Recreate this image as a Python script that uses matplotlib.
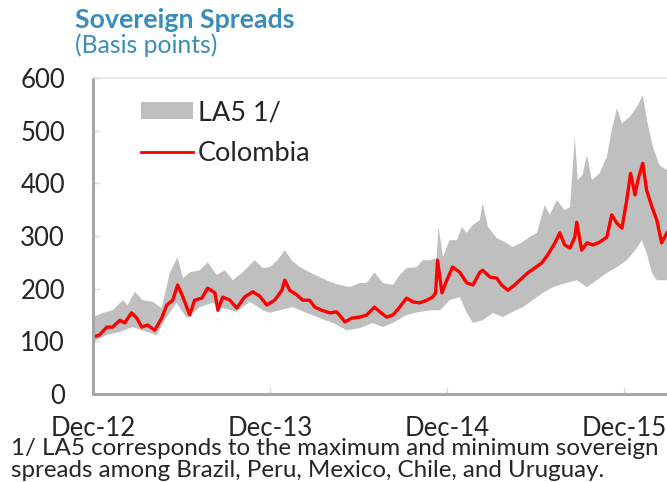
import pandas as pd
import matplotlib
matplotlib.use("Agg")
import matplotlib.pyplot as plt
import matplotlib.dates as mdates
from matplotlib.patches import Patch
from matplotlib.lines import Line2D

START = pd.Timestamp("2012-12-01")

# days after 1 Dec 2012 and spreads in basis points
colombia_day = [0, 14, 29, 41, 56, 66, 80, 91, 101, 113, 128, 142, 153, 165, 175,
                186, 200, 210, 225, 237, 252, 258, 268, 283, 297, 313, 330, 344,
                359, 375, 390, 396, 406, 421, 433, 447, 458, 472, 489, 503, 520,
                534, 551, 565, 581, 592, 606, 619, 633, 647, 660, 674, 689, 701,
                707, 711, 720, 730, 742, 757, 771, 784, 798, 804, 819, 833, 843,
                856, 870, 885, 897, 911, 926, 938, 953, 963, 973, 984, 994, 998,
                1008, 1019, 1031, 1045, 1060, 1070, 1081, 1091, 1101, 1109, 1118,
                1124, 1134, 1142, 1153, 1163, 1173, 1184]
colombia_bp = [108, 112, 127, 127, 140, 135, 154, 144, 127, 131, 121, 144, 169, 178,
               207, 184, 150, 178, 182, 201, 192, 159, 184, 178, 163, 184, 194,
               186, 169, 178, 197, 216, 197, 188, 178, 178, 165, 159, 154, 156,
               137, 144, 146, 150, 165, 156, 146, 150, 165, 182, 175, 173, 178,
               184, 192, 254, 192, 216, 241, 231, 211, 207, 231, 235, 222, 220,
               207, 197, 207, 220, 230, 239, 249, 264, 287, 306, 283, 277, 298,
               326, 273, 287, 283, 288, 298, 340, 324, 315, 368, 419, 378, 406,
               438, 387, 355, 330, 287, 306]

la5_max_day = [0, 21, 41, 62, 72, 87, 103, 124, 142, 159, 175, 186, 200, 221, 237,
               256, 272, 289, 309, 334, 351, 365, 381, 396, 410, 427, 447, 468,
               489, 509, 530, 551, 565, 581, 598, 619, 633, 647, 668, 680, 695,
               709, 713, 722, 736, 751, 761, 771, 784, 798, 804, 815, 833, 850,
               866, 885, 901, 916, 932, 942, 957, 973, 984, 994, 1000, 1010, 1019,
               1029, 1045, 1060, 1070, 1081, 1091, 1107, 1122, 1134, 1144, 1155,
               1169, 1184]
la5_max_bp = [146, 154, 159, 178, 169, 194, 178, 175, 163, 230, 260, 220, 231, 235,
              250, 226, 235, 216, 231, 254, 239, 241, 254, 273, 254, 241, 231, 222,
              213, 207, 203, 211, 211, 231, 211, 207, 226, 239, 241, 254, 254,
              258, 317, 260, 292, 292, 317, 306, 321, 330, 362, 317, 296, 288,
              279, 288, 298, 306, 359, 340, 368, 349, 355, 488, 406, 416, 454,
              406, 419, 450, 501, 543, 514, 526, 545, 567, 514, 469, 434, 425]

la5_min_day = [0, 29, 56, 82, 111, 132, 148, 173, 194, 221, 247, 268, 297, 324, 351,
               365, 386, 412, 441, 468, 495, 524, 551, 577, 598, 619, 647, 674,
               701, 716, 736, 757, 771, 784, 804, 825, 845, 866, 887, 907, 928,
               949, 977, 998, 1019, 1039, 1060, 1081, 1101, 1122, 1132, 1142,
               1153, 1163, 1184]
la5_min_bp = [99, 112, 118, 127, 118, 112, 140, 173, 144, 165, 173, 163, 156, 175,
              159, 154, 159, 165, 154, 144, 135, 121, 125, 135, 127, 135, 150,
              156, 159, 159, 178, 184, 154, 135, 140, 154, 146, 156, 165, 178,
              192, 203, 211, 216, 203, 216, 230, 241, 254, 277, 292, 268, 230,
              216, 216]

tick_dates = ["2012-12-01", "2013-12-01", "2014-12-01", "2015-12-01"]
tick_labels = ["Dec-12", "Dec-13", "Dec-14", "Dec-15"]
y_ticks = [0, 100, 200, 300, 400, 500, 600]


def to_num(days):
    return mdates.date2num(START + pd.to_timedelta(days, unit="D"))


def main():
    plt.rcParams["font.family"] = ["Lato", "DejaVu Sans"]
    text_col = "#262626"
    title_col = "#3A8DB9"

    fig = plt.figure(figsize=(6.67, 4.82), dpi=100)
    ax = fig.add_axes([0.139, 0.1826, 0.861, 0.6556])

    xs_max = list(to_num(la5_max_day))
    xs_min = list(to_num(la5_min_day))
    ax.fill(xs_max + xs_min[::-1], la5_max_bp + la5_min_bp[::-1],
            color="#BFBFBF", lw=0, zorder=1)
    ax.plot(to_num(colombia_day), colombia_bp, color="#FF0000", lw=2.4,
            zorder=2)

    ax.set_xlim(to_num(0), to_num(1184))
    ax.set_ylim(0, 600)
    ax.set_xticks(mdates.date2num(pd.to_datetime(tick_dates)))
    ax.set_xticklabels(tick_labels)
    ax.set_yticks(y_ticks)
    ax.tick_params(axis="both", direction="in", length=5, width=1,
                   color="#D9D9D9", labelsize=18.5, labelcolor=text_col)
    ax.tick_params(axis="x", pad=16)
    ax.tick_params(axis="y", pad=20)

    ax.spines["right"].set_visible(False)
    ax.spines["top"].set_color("#E0E0E0")
    ax.spines["top"].set_linewidth(1.2)
    for side in ["left", "bottom"]:
        ax.spines[side].set_color("#A6A6A6")
        ax.spines[side].set_linewidth(2.2)

    handles = [Patch(facecolor="#BFBFBF", edgecolor="none", label="LA5 1/"),
               Line2D([], [], color="#FF0000", lw=2, label="Colombia")]
    leg = ax.legend(handles=handles, loc="upper left", frameon=False,
                    bbox_to_anchor=(0.195, 0.815), bbox_transform=fig.transFigure,
                    fontsize=19.5, handlelength=1.92, handleheight=0.55,
                    handletextpad=0.18, labelspacing=0.58, borderaxespad=0)
    for t in leg.get_texts():
        t.set_color(text_col)

    fig.text(0.112, 0.942, "Sovereign Spreads", color=title_col, fontsize=19.3,
             fontweight="bold", va="baseline", ha="left")
    fig.text(0.112, 0.890, "(Basis points)", color=title_col, fontsize=17.8,
             va="baseline", ha="left")
    fig.text(0.017, 0.057,
             "1/ LA5 corresponds to the maximum and minimum sovereign",
             color=text_col, fontsize=17.4, va="baseline", ha="left")
    fig.text(0.017, 0.011,
             "spreads among Brazil, Peru, Mexico, Chile, and Uruguay.",
             color=text_col, fontsize=17.4, va="baseline", ha="left")

    fig.savefig("out.png", dpi=100)


if __name__ == "__main__":
    main()
